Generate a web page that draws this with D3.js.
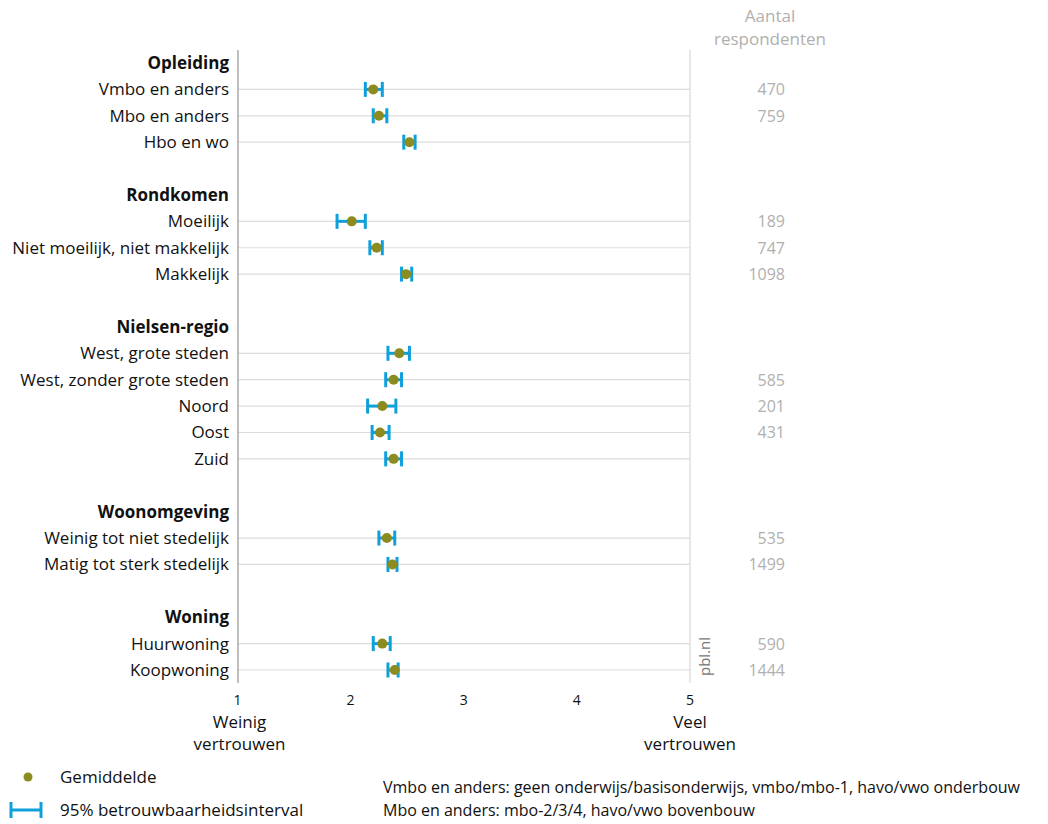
<!DOCTYPE html>
<html>
<head>
<meta charset="utf-8">
<script src="https://cdn.jsdelivr.net/npm/d3@7"></script>
<style>
body{margin:0;background:#fff;}
svg text{font-family:"Open Sans",sans-serif;}
</style>
</head>
<body>
<svg id="chart" width="1048" height="824"></svg>
<script>
// ---- data ----
const groups = ["Opleiding","Rondkomen","Nielsen-regio","Woonomgeving","Woning"];
const categories = [
  ["Vmbo en anders","Mbo en anders","Hbo en wo"],
  ["Moeilijk","Niet moeilijk, niet makkelijk","Makkelijk"],
  ["West, grote steden","West, zonder grote steden","Noord","Oost","Zuid"],
  ["Weinig tot niet stedelijk","Matig tot sterk stedelijk"],
  ["Huurwoning","Koopwoning"]
];
const means = [
  [2.20,2.25,2.52],
  [2.01,2.23,2.49],
  [2.43,2.38,2.28,2.26,2.38],
  [2.32,2.37],
  [2.28,2.39]
];
const ciLow = [
  [2.13,2.20,2.47],
  [1.88,2.17,2.45],
  [2.33,2.31,2.15,2.19,2.31],
  [2.25,2.33],
  [2.20,2.33]
];
const ciHigh = [
  [2.28,2.32,2.57],
  [2.13,2.28,2.54],
  [2.52,2.45,2.40,2.34,2.45],
  [2.39,2.41],
  [2.35,2.42]
];
const respondents = [
  [470,759,null],
  [189,747,1098],
  [null,585,201,431,null],
  [535,1499],
  [590,1444]
];
const xTicks = [1,2,3,4,5];
const notes = [
  "Vmbo en anders: geen onderwijs/basisonderwijs, vmbo/mbo-1, havo/vwo onderbouw",
  "Mbo en anders: mbo-2/3/4, havo/vwo bovenbouw"
];

// ---- build slot list ----
const slots = [];
groups.forEach((g,gi)=>{
  slots.push({type:"header",label:g,key:"h"+gi});
  categories[gi].forEach((c,ci)=>{
    slots.push({type:"item",label:c,key:"i"+gi+"_"+ci,mean:means[gi][ci],lo:ciLow[gi][ci],hi:ciHigh[gi][ci],n:respondents[gi][ci]});
  });
  if(gi<groups.length-1) slots.push({type:"blank",key:"b"+gi});
});

const svg = d3.select("#chart");
const x = d3.scaleLinear().domain([1,5]).range([237.5,690]);
const y = d3.scalePoint().domain(slots.map(s=>s.key)).range([63,670]);

const blue="#0fa0dc", olive="#8b8b1f";
const items = slots.filter(s=>s.type==="item");

// grid lines
svg.append("g").selectAll("line").data(items).join("line")
  .attr("x1",x(1)).attr("x2",x(5))
  .attr("y1",d=>y(d.key)).attr("y2",d=>y(d.key))
  .attr("stroke","#dcdcdc").attr("stroke-width",1.2);

// right line
svg.append("line").attr("x1",x(5)).attr("x2",x(5)).attr("y1",50).attr("y2",683)
  .attr("stroke","#d8d8d8").attr("stroke-width",1.2);
// left axis line
svg.append("line").attr("x1",x(1)+0.5).attr("x2",x(1)+0.5).attr("y1",50).attr("y2",683)
  .attr("stroke","#aaaaaa").attr("stroke-width",1.5);

// x tick labels
svg.append("g").selectAll("text").data(xTicks).join("text")
  .attr("x",d=>x(d)).attr("y",705).attr("text-anchor","middle")
  .attr("font-size",14).attr("fill","#111").text(d=>d);
[["Weinig","vertrouwen",x(1)+2],["Veel","vertrouwen",x(5)]].forEach(a=>{
  svg.append("text").attr("x",a[2]).attr("y",728).attr("text-anchor","middle").attr("font-size",17).attr("fill","#111").text(a[0]);
  svg.append("text").attr("x",a[2]).attr("y",750).attr("text-anchor","middle").attr("font-size",17).attr("fill","#111").text(a[1]);
});

// category labels
svg.append("g").selectAll("text").data(slots.filter(s=>s.type!=="blank")).join("text")
  .attr("x",229).attr("y",d=>y(d.key)+6).attr("text-anchor","end")
  .attr("font-size",17).attr("font-weight",d=>d.type==="header"?700:400)
  .attr("fill","#111").text(d=>d.label);

// error bars
const eb = svg.append("g").selectAll("g").data(items).join("g");
eb.append("line").attr("x1",d=>x(d.lo)).attr("x2",d=>x(d.hi))
  .attr("y1",d=>y(d.key)).attr("y2",d=>y(d.key)).attr("stroke",blue).attr("stroke-width",3);
eb.append("line").attr("x1",d=>x(d.lo)).attr("x2",d=>x(d.lo))
  .attr("y1",d=>y(d.key)-7.5).attr("y2",d=>y(d.key)+7.5).attr("stroke",blue).attr("stroke-width",3);
eb.append("line").attr("x1",d=>x(d.hi)).attr("x2",d=>x(d.hi))
  .attr("y1",d=>y(d.key)-7.5).attr("y2",d=>y(d.key)+7.5).attr("stroke",blue).attr("stroke-width",3);
eb.append("circle").attr("cx",d=>x(d.mean)).attr("cy",d=>y(d.key)).attr("r",5).attr("fill",olive);

// respondents
svg.append("text").attr("x",770).attr("y",22).attr("text-anchor","middle").attr("font-size",17).attr("fill","#b0b0b0").text("Aantal");
svg.append("text").attr("x",770).attr("y",45).attr("text-anchor","middle").attr("font-size",17).attr("fill","#b0b0b0").text("respondenten");
svg.append("g").selectAll("text").data(items.filter(d=>d.n!=null)).join("text")
  .attr("x",785).attr("y",d=>y(d.key)+6).attr("text-anchor","end")
  .attr("font-size",16).attr("fill","#b0b0b0").text(d=>d.n);

// pbl.nl
svg.append("text").attr("transform","translate(710,676) rotate(-90)")
  .attr("font-size",15).attr("fill","#777").text("pbl.nl");

// legend
svg.append("circle").attr("cx",28).attr("cy",777).attr("r",4.5).attr("fill",olive);
svg.append("text").attr("x",60).attr("y",783).attr("font-size",17).attr("fill","#111").text("Gemiddelde");
svg.append("line").attr("x1",11).attr("x2",41).attr("y1",810).attr("y2",810).attr("stroke",blue).attr("stroke-width",3);
svg.append("line").attr("x1",11).attr("x2",11).attr("y1",802).attr("y2",818).attr("stroke",blue).attr("stroke-width",3);
svg.append("line").attr("x1",41).attr("x2",41).attr("y1",802).attr("y2",818).attr("stroke",blue).attr("stroke-width",3);
svg.append("text").attr("x",60).attr("y",816).attr("font-size",17).attr("fill","#111").text("95% betrouwbaarheidsinterval");

svg.append("g").selectAll("text").data(notes).join("text")
  .attr("x",383).attr("y",(d,i)=>793+i*23).attr("font-size",16).attr("fill","#111").text(d=>d);
</script>
</body>
</html>
